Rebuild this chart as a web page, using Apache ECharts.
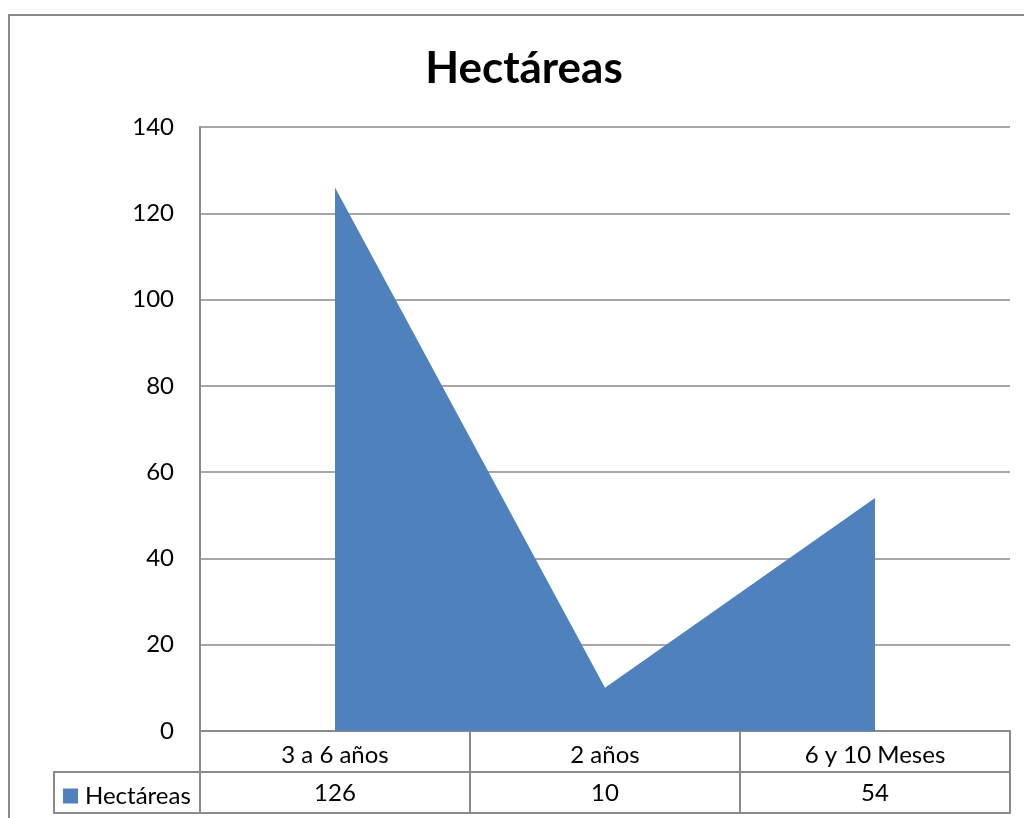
<!DOCTYPE html>
<html>
<head>
<meta charset="utf-8">
<script src="https://cdn.jsdelivr.net/npm/echarts@6/dist/echarts.min.js"></script>
<style>
html,body{margin:0;padding:0;background:#fff;}
#chart{width:1024px;height:818px;}
</style>
</head>
<body>
<div id="chart"></div>
<script>
var title = 'Hectáreas';
var seriesName = 'Hectáreas';
var categories = ['3 a 6 años', '2 años', '6 y 10 Meses'];
var values = [126, 10, 54];
var yTicks = [0, 20, 40, 60, 80, 100, 120, 140];

var FONT = 'Lato';
var FS = 24;
var GRAY = '#8a8a8a';
var chart = echarts.init(document.getElementById('chart'));
chart.setOption({
  backgroundColor: '#fff',
  animation: false,
  title: {
    text: title,
    left: 519,
    textAlign: 'center',
    top: 42,
    textStyle: {fontFamily: FONT, fontWeight: 'bold', fontSize: 44, color: '#000'}
  },
  legend: {
    data: [seriesName],
    left: 58,
    top: 779,
    icon: 'rect',
    itemWidth: 15,
    itemHeight: 15,
    itemGap: 5,
    textStyle: {fontFamily: FONT, fontSize: FS, color: '#000', padding: [0, 0, 0, 2]}
  },
  grid: {left: 200, right: 14, top: 127, bottom: 87},
  xAxis: [{
    type: 'category',
    data: categories,
    boundaryGap: true,
    position: 'bottom',
    axisLine: {show: true, lineStyle: {color: GRAY, width: 2}},
    axisTick: {show: true, length: 82, inside: false, lineStyle: {color: GRAY, width: 2}},
    axisLabel: {fontFamily: FONT, fontSize: FS, color: '#000', margin: 24, verticalAlign: 'middle'}
  }, {
    type: 'category',
    data: values.map(function (v) { return String(v); }),
    boundaryGap: true,
    position: 'bottom',
    offset: 41,
    axisLine: {show: true, lineStyle: {color: GRAY, width: 2}},
    axisTick: {show: false},
    axisLabel: {fontFamily: FONT, fontSize: FS, color: '#000', margin: 21, verticalAlign: 'middle'}
  }, {
    type: 'category',
    data: categories,
    boundaryGap: true,
    position: 'bottom',
    offset: 82,
    axisLine: {show: true, lineStyle: {color: GRAY, width: 2}},
    axisTick: {show: false},
    axisLabel: {show: false}
  }],
  yAxis: {
    type: 'value',
    min: yTicks[0],
    max: yTicks[yTicks.length - 1],
    interval: yTicks[1] - yTicks[0],
    axisLine: {show: true, lineStyle: {color: GRAY, width: 2}},
    axisTick: {show: false},
    axisLabel: {fontFamily: FONT, fontSize: FS, color: '#000', margin: 26},
    splitLine: {show: true, lineStyle: {color: GRAY, width: 1.5}}
  },
  series: [{
    name: seriesName,
    type: 'line',
    xAxisIndex: 0,
    data: values,
    symbol: 'none',
    lineStyle: {width: 0},
    itemStyle: {color: '#4F81BD'},
    areaStyle: {color: '#4F81BD', opacity: 1}
  }],
  graphic: [{
    type: 'rect',
    shape: {x: 9, y: 15, width: 1100, height: 900},
    style: {fill: 'none', stroke: GRAY, lineWidth: 2},
    silent: true,
    z: -1
  }, {
    type: 'rect',
    shape: {x: 54, y: 772, width: 146, height: 41},
    style: {fill: 'none', stroke: GRAY, lineWidth: 2},
    silent: true
  }]
});
</script>
</body>
</html>
